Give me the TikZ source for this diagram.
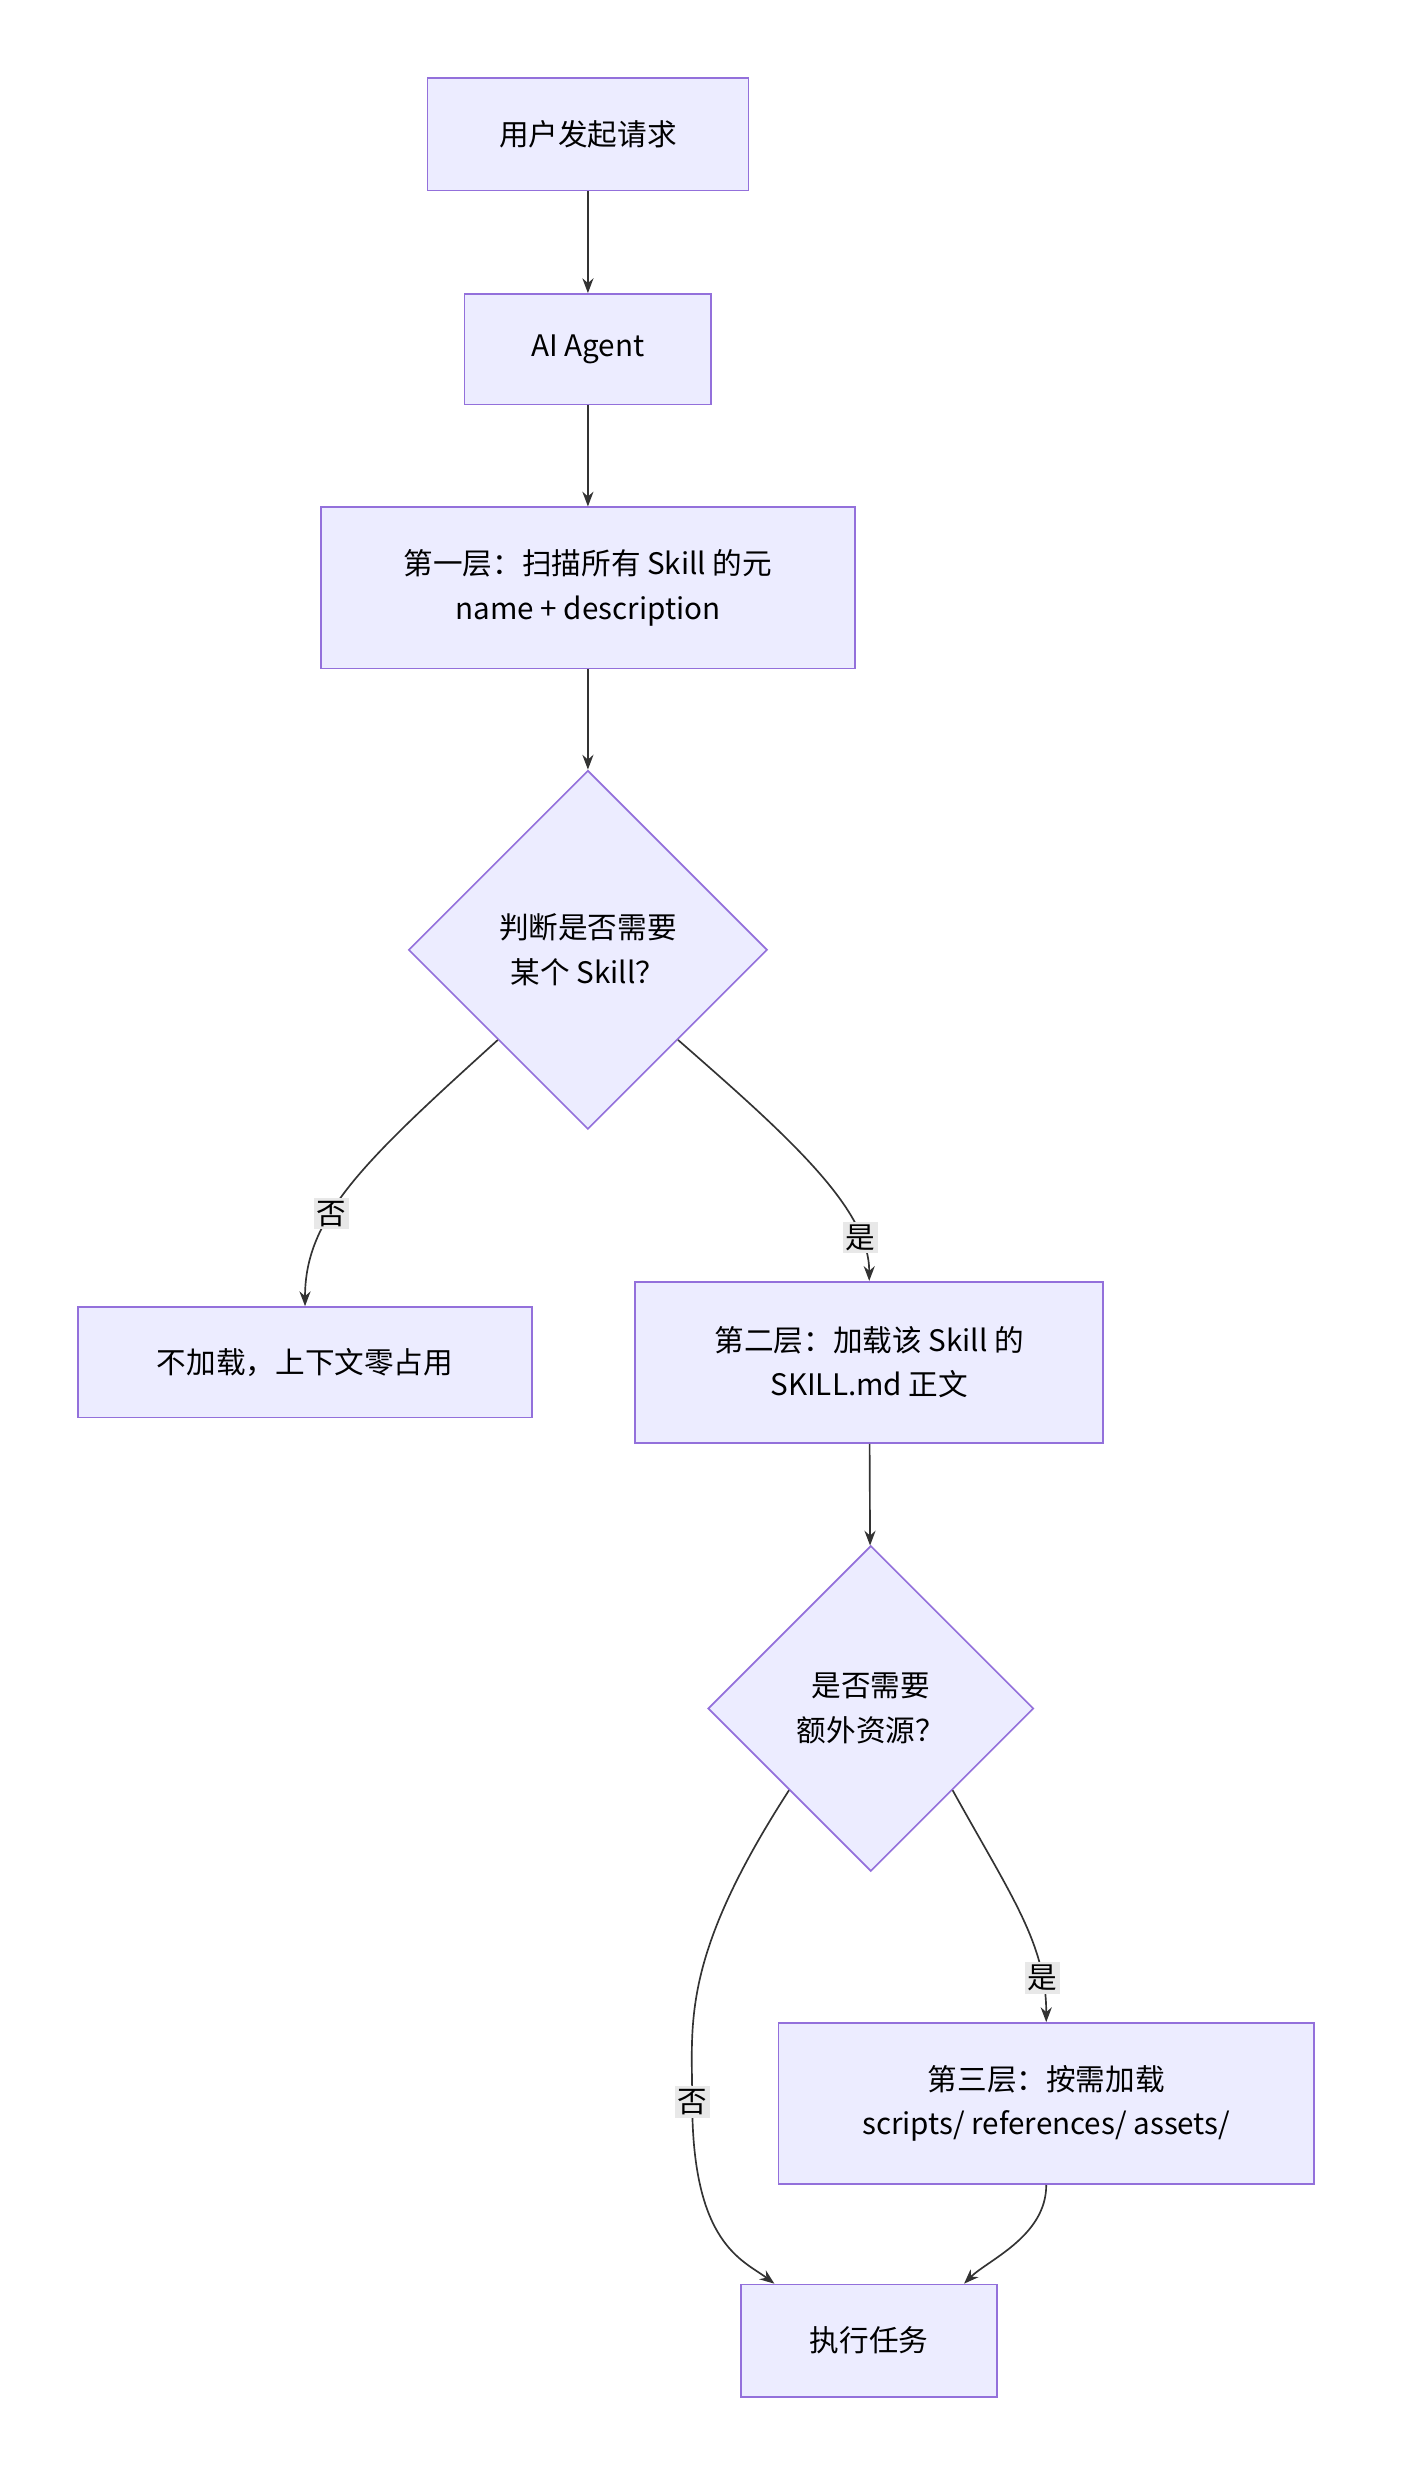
\documentclass[tikz,border=0pt]{standalone}
\usepackage{fontspec}
\setmainfont{Noto Sans CJK SC}
\usetikzlibrary{arrows.meta,shapes.geometric}
\definecolor{boxfill}{HTML}{ECECFF}
\definecolor{boxline}{HTML}{9370DB}
\definecolor{edgecol}{HTML}{333333}
\definecolor{lblfill}{HTML}{E8E8E8}
\begin{document}
\begin{tikzpicture}[x=0.03cm,y=-0.03cm,
  font=\fontsize{16}{24}\selectfont,
  box/.style={draw=boxline,fill=boxfill,line width=0.9pt,align=center,inner sep=0pt},
  choice/.style={diamond,draw=boxline,fill=boxfill,line width=0.9pt,align=center,inner sep=0pt,minimum width=#1,minimum height=#1},
  flow/.style={draw=edgecol,line width=0.9pt,-{Stealth[length=8pt,width=6pt]}},
  lbl/.style={fill=lblfill,inner sep=1.5pt}]
\useasboundingbox[fill=white] (0,0) rectangle (886,1573);
% nodes
\node[box,minimum width=6.09cm,minimum height=2.13cm] (req) at (372,85) {用户发起请求};
\node[box,minimum width=4.68cm,minimum height=2.1cm] (agent) at (372,221) {AI Agent};
\node[box,minimum width=10.14cm,minimum height=3.06cm] (scan) at (372,372) {第一层：扫描所有 Skill 的元\\name + description};
\node[choice=6.81cm] (need) at (372,601) {判断是否需要\\某个 Skill？};
\node[box,minimum width=8.61cm,minimum height=2.1cm] (skip) at (193,862) {不加载，上下文零占用};
\node[box,minimum width=8.88cm,minimum height=3.06cm] (load) at (550,862) {第二层：加载该 Skill 的\\SKILL.md 正文};
\node[choice=6.18cm] (extra) at (551,1081) {是否需要\\额外资源？};
\node[box,minimum width=10.17cm,minimum height=3.06cm] (res) at (662,1331) {第三层：按需加载\\scripts/ references/ assets/};
\node[box,minimum width=4.86cm,minimum height=2.13cm] (run) at (550,1481) {执行任务};
% edges
\draw[flow] (req) -- (agent);
\draw[flow] (agent) -- (scan);
\draw[flow] (scan) -- (need);
\draw[flow] (need.south west) .. controls (230,735) and (193,770) .. node[lbl,pos=0.62] {否} (skip.north);
\draw[flow] (need.south east) .. controls (500,720) and (550,765) .. node[lbl,pos=0.8] {是} (load.north);
\draw[flow] (load) -- (extra);
\draw[flow] (extra.south west) .. controls (430,1240) and (438,1280) .. (438,1330)
  node[lbl] {否} .. controls (438,1420) and (470,1430) .. (run.north west -| 490,0);
\draw[flow] (extra.south east) .. controls (640,1200) and (662,1230) .. node[lbl,pos=0.8] {是} (res.north);
\draw[flow] (res.south) .. controls (662,1415) and (625,1430) .. (run.north east -| 610,0);
\end{tikzpicture}
\end{document}
